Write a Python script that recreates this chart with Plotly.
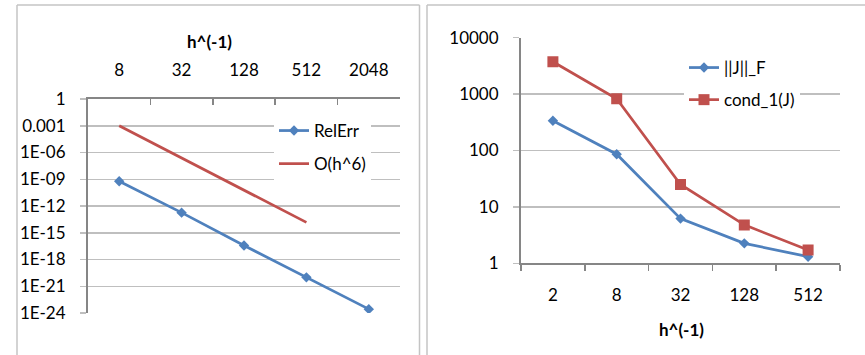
import plotly.graph_objects as go

# ---- data ----
left_cats = ["8", "32", "128", "512", "2048"]
relerr = [6e-10, 1.8e-13, 3.7e-17, 1.0e-20, 2.7e-24]
oh6 = [1e-3, 2.44e-7, 5.96e-11, 1.46e-14, None]

right_cats = ["2", "8", "32", "128", "512"]
jnorm_f = [337, 86, 6.2, 2.26, 1.31]
cond_1 = [3740, 826, 25, 4.8, 1.72]

left_ytickvals = [1, 1e-3, 1e-6, 1e-9, 1e-12, 1e-15, 1e-18, 1e-21, 1e-24]
left_yticktext = ["1", "0.001", "1E-06", "1E-09", "1E-12", "1E-15", "1E-18", "1E-21", "1E-24"]
right_ytickvals = [1, 10, 100, 1000, 10000]
right_yticktext = ["1", "10", "100", "1000", "10000"]

BLUE = "#4F81BD"
RED = "#C0504D"
FONT = "Lato"
FS = 17
W, H = 865, 355
AXC = "#868686"
GRIDC = "#BFBFBF"


def px(x):
    return x / W


def py(y):
    return 1 - y / H


fig = go.Figure()

fig.add_trace(go.Scatter(x=left_cats, y=relerr, name="RelErr", mode="lines+markers",
                         line=dict(color=BLUE, width=2.75),
                         marker=dict(symbol="diamond", size=8, color=BLUE),
                         xaxis="x", yaxis="y", legend="legend", legendgroup="a"))
fig.add_trace(go.Scatter(x=left_cats, y=oh6, name="O(h^6)", mode="lines",
                         line=dict(color=RED, width=2.75),
                         xaxis="x", yaxis="y", legend="legend", legendgroup="b"))
fig.add_trace(go.Scatter(x=right_cats, y=jnorm_f, name="||J||_F", mode="lines+markers",
                         line=dict(color=BLUE, width=2.75),
                         marker=dict(symbol="diamond", size=8, color=BLUE),
                         xaxis="x2", yaxis="y2", legend="legend2", legendgroup="c"))
fig.add_trace(go.Scatter(x=right_cats, y=cond_1, name="cond_1(J)", mode="lines+markers",
                         line=dict(color=RED, width=2.75),
                         marker=dict(symbol="square", size=11, color=RED),
                         xaxis="x2", yaxis="y2", legend="legend2", legendgroup="d"))

common_font = dict(family=FONT, size=FS, color="#000000")

fig.update_layout(
    width=W, height=H,
    margin=dict(l=0, r=0, t=0, b=0, autoexpand=False),
    paper_bgcolor="white", plot_bgcolor="white",
    font=common_font,
    hovermode=False,
    xaxis=dict(domain=[px(88), px(400)], anchor="y", side="top", type="category",
               range=[-0.5, 4.5],
               tickson="boundaries", ticks="inside", ticklen=6, tickcolor=AXC, tickwidth=1.5,
               showline=True, linecolor=AXC, linewidth=2, showgrid=False,
               ticklabelstandoff=14,
               tickfont=common_font, automargin=False),
    yaxis=dict(domain=[py(313), py(99)], anchor="x", type="log", range=[-24, 0],
               tickvals=left_ytickvals, ticktext=left_yticktext,
               ticks="outside", ticklen=6, tickcolor=GRIDC, tickwidth=1.5,
               showline=True, linecolor=AXC, linewidth=2,
               showgrid=True, gridcolor=GRIDC, gridwidth=1.5,
               ticklabelstandoff=11,
               tickfont=common_font, automargin=False, zeroline=False),
    xaxis2=dict(domain=[px(521), px(840)], anchor="y2", side="bottom", type="category",
                range=[-0.5, 4.5],
                tickson="boundaries", ticks="outside", ticklen=6, tickcolor=AXC, tickwidth=1.5,
                showline=True, linecolor=AXC, linewidth=2, showgrid=False,
                ticklabelstandoff=15,
                tickfont=common_font, automargin=False),
    yaxis2=dict(domain=[py(263.3), py(37.7)], anchor="x2", type="log", range=[0, 4],
                tickvals=right_ytickvals, ticktext=right_yticktext,
                ticks="outside", ticklen=6, tickcolor=GRIDC, tickwidth=1.5,
                showline=True, linecolor=AXC, linewidth=2,
                showgrid=True, gridcolor=GRIDC, gridwidth=1.5,
                ticklabelstandoff=11,
                tickfont=common_font, automargin=False, zeroline=False),
    legend=dict(x=px(274), y=py(113), xanchor="left", yanchor="top",
                bgcolor="white", borderwidth=0, font=common_font,
                traceorder="grouped", tracegroupgap=8),
    legend2=dict(x=px(684), y=py(50), xanchor="left", yanchor="top",
                 bgcolor="white", borderwidth=0, font=common_font,
                 traceorder="grouped", tracegroupgap=7),
    showlegend=True,
)

# axis titles
fig.add_annotation(text="<b>h^(-1)</b>", x=px(209), y=py(42), xref="paper", yref="paper",
                   showarrow=False, font=common_font, xanchor="center", yanchor="middle")
fig.add_annotation(text="<b>h^(-1)</b>", x=px(681), y=py(329), xref="paper", yref="paper",
                   showarrow=False, font=common_font, xanchor="center", yanchor="middle")

# panel borders
BORDER = "#C4C4C4"
for (x0, y0, x1, y1) in [
    (17, 5, 17, 360), (17, 5, 419.5, 5), (419.5, 5, 419.5, 360),
    (427, 5, 427, 360), (427, 5, 870, 5),
]:
    fig.add_shape(type="line", xref="paper", yref="paper",
                  x0=px(x0), y0=py(y0), x1=px(x1), y1=py(y1),
                  line=dict(color=BORDER, width=1.5))

fig.write_html("out.html", config={"displayModeBar": False, "staticPlot": True},
               post_script="document.body.style.margin='0';document.body.style.overflow='hidden';")
